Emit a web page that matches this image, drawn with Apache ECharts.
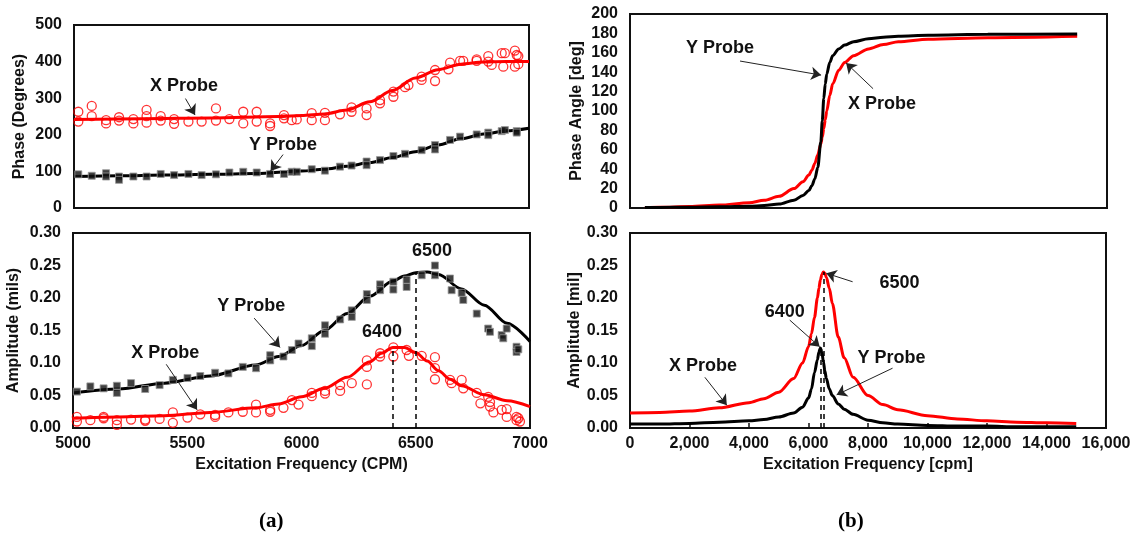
<!DOCTYPE html>
<html>
<head>
<meta charset="utf-8">
<script src="https://cdn.jsdelivr.net/npm/echarts@6/dist/echarts.min.js"></script>
<style>
  html, body { margin: 0; padding: 0; background: #fff; }
  #chart { width: 1137px; height: 543px; }
</style>
</head>
<body>
<div id="chart"></div>
<script>
// ---- (a) measured phase, 5000-7000 CPM: [cpm, degrees] ----
const phaseXPts = [[5019,263],[5019,236],[5078,279],[5078,251],[5141,240],[5141,231],[5198,248],[5198,239],[5261,243],[5261,231],[5319,268],[5319,251],[5319,233],[5381,251],[5381,239],[5440,243],[5440,230],[5503,236],[5561,236],[5624,272],[5624,239],[5683,243],[5744,263],[5744,231],[5803,263],[5803,236],[5862,231],[5862,224],[5923,254],[5923,245],[5957,240],[5979,242],[6045,259],[6045,240],[6103,260],[6103,240],[6169,256],[6220,275],[6220,263],[6286,272],[6286,254],[6345,295],[6345,286],[6404,318],[6404,304],[6455,330],[6470,336],[6528,359],[6528,350],[6587,377],[6587,347],[6646,379],[6653,397],[6697,402],[6711,402],[6770,406],[6770,402],[6821,415],[6821,400],[6836,391],[6880,423],[6887,386],[6894,423],[6938,430],[6938,386],[6946,418],[6953,415],[6953,393]];
const phaseYPts = [[5019,92],[5078,88],[5141,95],[5141,86],[5198,86],[5198,77],[5261,86],[5319,86],[5381,93],[5440,90],[5503,93],[5561,90],[5624,92],[5683,97],[5744,99],[5803,97],[5862,93],[5923,93],[5957,99],[5979,99],[6045,106],[6103,102],[6169,113],[6220,116],[6286,127],[6286,117],[6345,131],[6404,142],[6455,148],[6528,158],[6587,172],[6587,160],[6653,186],[6697,195],[6770,201],[6821,206],[6821,199],[6880,210],[6894,213],[6946,210],[6946,206]];

// ---- (a) fitted phase curves ----
const phaseFitFreqX = [5000,5300,5600,5900,6000,6100,6200,6300,6400,6500,6600,6700,6800,6900,7000];
const phaseFitX     = [242,244,246,250,253,257,268,290,321,355,378,393,399,400,400];
const phaseFitFreqY = [5000,5200,5400,5600,5800,6000,6100,6200,6300,6400,6500,6600,6700,6800,6900,7000];
const phaseFitY     = [86,88,90,92,94,101,106,114,124,138,154,172,189,202,211,218];

// ---- (a) measured amplitude: [cpm, mils] ----
const ampYPts = [[5017,0.056],[5076,0.064],[5134,0.061],[5192,0.065],[5192,0.054],[5254,0.069],[5316,0.060],[5379,0.066],[5437,0.074],[5501,0.077],[5557,0.080],[5622,0.085],[5680,0.084],[5743,0.094],[5801,0.092],[5863,0.112],[5863,0.104],[5921,0.110],[5958,0.120],[5987,0.130],[6045,0.138],[6045,0.126],[6103,0.158],[6103,0.145],[6169,0.167],[6220,0.181],[6220,0.171],[6286,0.206],[6286,0.197],[6344,0.221],[6344,0.212],[6402,0.225],[6402,0.213],[6460,0.228],[6460,0.217],[6526,0.235],[6584,0.250],[6584,0.235],[6650,0.230],[6657,0.212],[6701,0.208],[6708,0.197],[6767,0.176],[6817,0.153],[6825,0.148],[6876,0.143],[6883,0.138],[6898,0.153],[6941,0.125],[6941,0.117],[6949,0.121]];
const ampXPts = [[5017,0.017],[5017,0.010],[5076,0.012],[5134,0.017],[5134,0.015],[5192,0.012],[5192,0.005],[5254,0.013],[5316,0.013],[5316,0.011],[5379,0.014],[5437,0.024],[5437,0.008],[5501,0.016],[5557,0.021],[5622,0.017],[5622,0.020],[5680,0.024],[5743,0.025],[5801,0.024],[5801,0.036],[5863,0.028],[5863,0.025],[5921,0.031],[5958,0.043],[5987,0.036],[6045,0.054],[6045,0.049],[6103,0.057],[6103,0.053],[6169,0.066],[6169,0.057],[6220,0.069],[6286,0.104],[6286,0.094],[6286,0.067],[6344,0.115],[6344,0.110],[6402,0.124],[6402,0.110],[6460,0.120],[6470,0.111],[6526,0.111],[6584,0.109],[6584,0.092],[6584,0.075],[6650,0.074],[6657,0.069],[6701,0.074],[6708,0.061],[6767,0.054],[6783,0.038],[6817,0.048],[6825,0.040],[6825,0.033],[6840,0.024],[6876,0.028],[6898,0.029],[6898,0.017],[6941,0.017],[6941,0.012],[6949,0.015],[6956,0.010]];

// ---- (a) fitted amplitude curves ----
const ampFitFreqY = [5000,5200,5400,5600,5800,5900,6000,6100,6200,6300,6400,6450,6500,6550,6600,6700,6800,6900,7000];
const ampFitY     = [0.054,0.060,0.069,0.080,0.097,0.110,0.127,0.150,0.176,0.203,0.226,0.234,0.239,0.240,0.236,0.214,0.189,0.161,0.133];
const ampFitFreqX = [5000,5200,5400,5600,5800,5900,6000,6100,6200,6300,6350,6400,6450,6500,6550,6600,6650,6700,6800,6900,7000];
const ampFitX     = [0.015,0.017,0.019,0.024,0.031,0.037,0.048,0.061,0.078,0.102,0.115,0.124,0.124,0.116,0.103,0.088,0.075,0.065,0.051,0.042,0.033];

// peak frequencies marked in (a)
const peakFreqA = [6400, 6500];
const peakAmpA  = [0.124, 0.239];

// ---- (b) predicted phase angle, 0-15000 cpm ----
const predPhaseFreq = [500,1000,2000,3000,4000,4500,5000,5500,5800,6000,6100,6200,6300,6400,6450,6500,6550,6600,6700,6800,7000,7200,7500,8000,8500,9000,10000,12000,15000];
const predPhaseY    = [0.5,0.6,0.8,1.2,1.8,2.5,4,8,13,18,23,30,42,68,90,113,128,138,150,157,164,168,171.5,174.5,176,177,178,179,179.5];
const predPhaseX    = [0.5,0.8,1.5,3,5.5,8,12,20,27,34,39,46,55,66,73,82,91,100,116,128,142,150,157,164,168.5,171.5,174,175.5,177];

// ---- (b) predicted amplitude ----
const predAmpFreq = [0,1000,2000,3000,4000,4500,5000,5500,5800,6000,6100,6200,6300,6350,6400,6450,6500,6550,6600,6700,6800,7000,7200,7500,8000,8500,9000,10000,11000,12000,13000,14000,15000];
const predAmpRed  = [0.023,0.024,0.026,0.031,0.039,0.045,0.055,0.076,0.100,0.125,0.145,0.170,0.200,0.215,0.228,0.236,0.240,0.238,0.232,0.215,0.192,0.140,0.108,0.078,0.050,0.036,0.028,0.019,0.014,0.011,0.009,0.008,0.007];
const predAmpBlack= [0.006,0.006,0.007,0.009,0.011,0.013,0.017,0.023,0.032,0.046,0.060,0.085,0.105,0.117,0.123,0.117,0.102,0.088,0.076,0.060,0.050,0.037,0.029,0.021,0.012,0.008,0.006,0.004,0.003,0.003,0.002,0.002,0.002];

// peak frequencies marked in (b)
const peakFreqB = [6400, 6500];
const peakAmpB  = [0.123, 0.240];

const zip = (xs, ys) => xs.map((x, i) => [x, ys[i]]);

const FONT = '"Liberation Sans", Arial, sans-serif';
const RED = '#ff0000';
const BLACK = '#000000';

const tickLabel = { color: '#111', fontWeight: 'bold', fontSize: 16, fontFamily: FONT };
const nameStyle = { color: '#111', fontWeight: 'bold', fontSize: 16, fontFamily: FONT };
const noLine = { show: false };

function grid(left, top, width, height) {
  return { left, top, width, height, show: true, borderColor: '#111', borderWidth: 2, backgroundColor: 'transparent' };
}

function xAxis(gi, min, max, interval, opts) {
  return Object.assign({
    type: 'value', gridIndex: gi, min, max, interval,
    axisLine: noLine, axisTick: { show: false }, splitLine: { show: false },
    axisLabel: Object.assign({ show: false, margin: 10 }, tickLabel),
    nameLocation: 'middle', nameTextStyle: nameStyle
  }, opts || {});
}

function yAxis(gi, min, max, interval, name, gap, fmt) {
  return {
    type: 'value', gridIndex: gi, min, max, interval,
    axisLine: noLine, axisTick: { show: false }, splitLine: { show: false },
    axisLabel: Object.assign({ margin: 12, formatter: fmt }, tickLabel),
    name, nameLocation: 'middle', nameGap: gap, nameRotate: 90, nameTextStyle: nameStyle
  };
}

// text annotation placed at a data coordinate
function note(text, coord) {
  return { name: text, coord, symbol: 'circle', symbolSize: 1, itemStyle: { color: 'rgba(0,0,0,0)' },
    label: { show: true, position: 'inside', formatter: '{b}', color: '#111', fontWeight: 'bold', fontSize: 18, fontFamily: FONT } };
}
// leader arrow between two data coordinates
function arrow(from, to) {
  return [{ coord: from, symbol: 'none' }, { coord: to, symbol: 'arrow', symbolSize: 10 }];
}
const arrowLine = (data) => ({
  silent: true, symbol: ['none', 'arrow'], symbolSize: [0, 10], label: { show: false },
  lineStyle: { color: '#222', width: 1, type: 'solid' }, emphasis: { disabled: true }, data
});
const dashLine = (freqs, amps) => ({
  silent: true, symbol: ['none', 'none'], label: { show: false },
  lineStyle: { color: '#000', width: 1.5, type: [5, 4] }, emphasis: { disabled: true },
  data: freqs.map((f, i) => [{ coord: [f, 0] }, { coord: [f, amps[i]] }])
});
const notes = (data) => ({ silent: true, data });

function fitLine(gi, data, color, extra) {
  return Object.assign({
    type: 'line', xAxisIndex: gi, yAxisIndex: gi, data, smooth: 0.3, smoothMonotone: 'x',
    symbol: 'none', lineStyle: { color, width: 3 }, itemStyle: { color }, z: 2
  }, extra || {});
}
function redCircles(gi, data) {
  return { type: 'scatter', xAxisIndex: gi, yAxisIndex: gi, data, symbol: 'circle', symbolSize: 9,
    itemStyle: { color: 'rgba(255,255,255,0)', borderColor: RED, borderWidth: 1.3 }, z: 3 };
}
function blackSquares(gi, data) {
  return { type: 'scatter', xAxisIndex: gi, yAxisIndex: gi, data, symbol: 'rect', symbolSize: 7,
    itemStyle: { color: '#111', borderColor: '#9a9a9a', borderWidth: 1 }, z: 3 };
}

const plain = v => String(v);
const commas = v => String(v).replace(/\B(?=(\d{3})+(?!\d))/g, ',');

const option = {
  animation: false,
  backgroundColor: '#fff',
  grid: [
    grid(74, 25, 455, 183),
    grid(73, 233, 457, 195),
    grid(630, 14, 477, 194),
    grid(630, 233, 476, 195)
  ],
  xAxis: [
    xAxis(0, 5000, 7000, 500),
    xAxis(1, 5000, 7000, 500, {
      axisLabel: Object.assign({ show: true, margin: 8, formatter: plain }, tickLabel),
      name: 'Excitation Frequency (CPM)', nameGap: 29
    }),
    xAxis(2, 0, 16000, 2000),
    xAxis(3, 0, 16000, 2000, {
      axisLabel: Object.assign({ show: true, margin: 8, formatter: commas }, tickLabel),
      axisTick: { show: true, inside: true, length: 5, lineStyle: { color: '#111', width: 1.5 } },
      name: 'Excitation Frequency [cpm]', nameGap: 29
    })
  ],
  yAxis: [
    yAxis(0, 0, 500, 100, 'Phase (Degrees)', 46),
    yAxis(1, 0, 0.30, 0.05, 'Amplitude (mils)', 51, v => v.toFixed(2)),
    yAxis(2, 0, 200, 20, 'Phase Angle [deg]', 45),
    yAxis(3, 0, 0.30, 0.05, 'Amplitude [mil]', 45, v => v.toFixed(2))
  ],
  series: [
    // (a) phase
    fitLine(0, zip(phaseFitFreqY, phaseFitY), BLACK, {
      markPoint: notes([note('Y Probe', [5919, 172])]),
      markLine: arrowLine([arrow([5919, 146], [5864, 101])])
    }),
    blackSquares(0, phaseYPts),
    fitLine(0, zip(phaseFitFreqX, phaseFitX), RED, {
      markPoint: notes([note('X Probe', [5484, 333])]),
      markLine: arrowLine([arrow([5490, 299], [5532, 254])])
    }),
    redCircles(0, phaseXPts),

    // (a) amplitude
    fitLine(1, zip(ampFitFreqY, ampFitY), BLACK, {
      markPoint: notes([note('Y Probe', [5780, 0.187]), note('6500', [6571, 0.272]), note('6400', [6352, 0.147])]),
      markLine: arrowLine([arrow([5793, 0.169], [5906, 0.124]), arrow([5408, 0.098], [5543, 0.028])])
    }),
    blackSquares(1, ampYPts),
    fitLine(1, zip(ampFitFreqX, ampFitX), RED, {
      markPoint: notes([note('X Probe', [5404, 0.115])]),
      markLine: dashLine(peakFreqA, peakAmpA)
    }),
    redCircles(1, ampXPts),

    // (b) phase angle
    fitLine(2, zip(predPhaseFreq, predPhaseX), RED, {
      markPoint: notes([note('X Probe', [8456, 107])]),
      markLine: arrowLine([arrow([8154, 123], [7248, 149.5])])
    }),
    fitLine(2, zip(predPhaseFreq, predPhaseY), BLACK, {
      z: 3,
      markPoint: notes([note('Y Probe', [3020, 165])]),
      markLine: arrowLine([arrow([3690, 151.5], [6410, 137])])
    }),

    // (b) amplitude
    fitLine(3, zip(predAmpFreq, predAmpRed), RED, {
      markPoint: notes([note('6500', [9060, 0.223]), note('X Probe', [2450, 0.095])]),
      markLine: arrowLine([arrow([7483, 0.225], [6600, 0.238]), arrow([2517, 0.078], [3255, 0.035])])
    }),
    fitLine(3, zip(predAmpFreq, predAmpBlack), BLACK, {
      z: 3,
      markPoint: notes([note('6400', [5200, 0.178]), note('Y Probe', [8790, 0.108])]),
      markLine: arrowLine([arrow([5370, 0.166], [6376, 0.125]), arrow([8825, 0.092], [6946, 0.051])])
    }),
    {
      type: 'line', xAxisIndex: 3, yAxisIndex: 3, data: [], symbol: 'none',
      markLine: dashLine(peakFreqB, peakAmpB)
    }
  ],
  graphic: [
    { type: 'text', left: 259, top: 511, style: { text: '(a)', font: 'bold 21px "Liberation Serif", "Times New Roman", serif', fill: '#000' } },
    { type: 'text', left: 838, top: 511, style: { text: '(b)', font: 'bold 21px "Liberation Serif", "Times New Roman", serif', fill: '#000' } }
  ]
};

const chart = echarts.init(document.getElementById('chart'), null, { renderer: 'canvas' });
chart.setOption(option);
</script>
</body>
</html>
